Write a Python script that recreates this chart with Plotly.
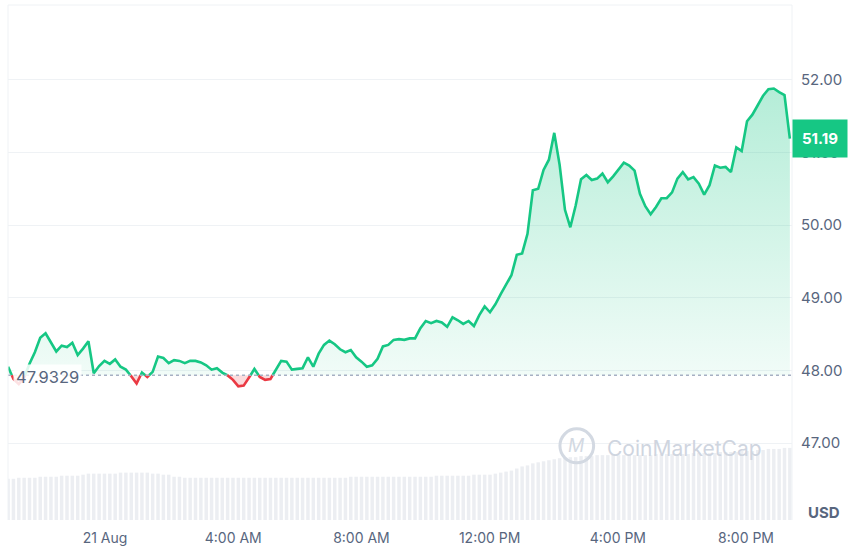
import numpy as np
import pandas as pd
import plotly.graph_objects as go

# 24h price of the token, 10-minute-ish samples
start_time = "2023-08-20 20:58:30"
end_time = "2023-08-21 21:22:00"
price = [
    48.05, 47.88, 47.81, 47.90, 48.09, 48.25, 48.45, 48.51, 48.38, 48.26,
    48.34, 48.32, 48.38, 48.21, 48.30, 48.40, 47.96, 48.06, 48.13, 48.09,
    48.15, 48.05, 48.01, 47.92, 47.82, 47.97, 47.91, 47.98, 48.19, 48.17,
    48.10, 48.14, 48.13, 48.10, 48.13, 48.13, 48.11, 48.07, 48.01, 48.03,
    47.97, 47.93, 47.87, 47.78, 47.79, 47.90, 48.02, 47.91, 47.87, 47.88,
    48.01, 48.13, 48.12, 48.01, 48.02, 48.03, 48.18, 48.05, 48.23, 48.35,
    48.41, 48.36, 48.29, 48.25, 48.28, 48.18, 48.12, 48.05, 48.07, 48.16,
    48.33, 48.35, 48.42, 48.43, 48.42, 48.44, 48.44, 48.58, 48.68, 48.65,
    48.68, 48.66, 48.60, 48.73, 48.69, 48.64, 48.68, 48.61, 48.76, 48.88,
    48.80, 48.91, 49.05, 49.19, 49.31, 49.59, 49.61, 49.88, 50.48, 50.50,
    50.76, 50.90, 51.27, 50.83, 50.21, 49.97, 50.27, 50.63, 50.69, 50.62,
    50.64, 50.71, 50.59, 50.67, 50.77, 50.86, 50.82, 50.75, 50.43, 50.26,
    50.15, 50.25, 50.37, 50.37, 50.45, 50.64, 50.73, 50.63, 50.66, 50.57,
    50.42, 50.55, 50.82, 50.79, 50.80, 50.73, 51.07, 51.02, 51.43, 51.52,
    51.65, 51.78, 51.87, 51.88, 51.83, 51.79, 51.19,
]
# volume (relative units)
volume = [
    40, 40, 41, 41, 41, 41, 42, 42, 42, 42, 43, 43, 43, 43, 44,
    45, 45, 45, 45, 45, 45, 46, 46, 46, 46, 46, 46, 45, 45, 44, 44,
    42, 42, 41, 41, 41, 41, 41, 41, 41, 41, 41, 41, 41, 41, 41, 41, 41, 41, 41, 41,
    41, 41, 41, 41, 41, 41, 41, 41, 41, 41, 41, 41, 41, 42, 42, 42, 42, 42, 42, 42,
    42, 42, 42, 42, 42, 42, 42, 42, 42, 43,
    43, 43, 43, 43, 43, 43, 44, 44, 44, 44, 45,
    46, 47, 48, 50, 52, 53, 55, 56, 57, 58,
    59, 60, 60, 61, 61, 62, 62, 62, 63, 63,
    63, 63, 63, 63, 63, 63, 63, 63, 63, 64, 64, 64, 64, 64, 64, 64, 65, 65, 65, 65,
    65, 66, 66, 66, 66, 67, 67, 67, 68, 68, 69, 69, 69, 70, 70,
]
base_price = 47.9329
last_price = 51.19
y_ticks = [47, 48, 49, 50, 51, 52]
x_ticks = ["2023-08-21 00:00", "2023-08-21 04:00", "2023-08-21 08:00",
           "2023-08-21 12:00", "2023-08-21 16:00", "2023-08-21 20:00"]
x_labels = ["21 Aug", "4:00 AM", "8:00 AM", "12:00 PM", "4:00 PM", "8:00 PM"]

GREEN = "#16c784"
RED = "#ea3943"
GREY = "#58667e"
GRID = "#eff2f5"

times = pd.date_range(start_time, end_time, periods=len(price))

# insert the points where the line crosses the base price so the colours split cleanly
t_num = times.astype("int64").to_numpy()
xs, ys = [t_num[0]], [price[0]]
for i in range(1, len(price)):
    p0, p1 = price[i - 1], price[i]
    if (p0 - base_price) * (p1 - base_price) < 0:
        f = (base_price - p0) / (p1 - p0)
        xs.append(int(t_num[i - 1] + f * (t_num[i] - t_num[i - 1])))
        ys.append(base_price)
    xs.append(t_num[i])
    ys.append(p1)
xs = pd.to_datetime(np.array(xs, dtype="int64"))
ys = np.array(ys)
base_line = np.full(len(ys), base_price)
up = np.where(ys >= base_price, ys, np.nan)
down = np.where(ys <= base_price, ys, np.nan)

fig = go.Figure()

fig.add_trace(go.Bar(x=times, y=volume, yaxis="y2", marker_color="#eceef2",
                     marker_line_width=0, hoverinfo="skip"))

# green area above base
fig.add_trace(go.Scatter(x=xs, y=base_line, mode="lines", line=dict(width=0), hoverinfo="skip"))
fig.add_trace(go.Scatter(
    x=xs, y=np.maximum(ys, base_price), mode="lines", line=dict(width=0), fill="tonexty",
    fillgradient=dict(type="vertical", start=47.0, stop=52.2,
                      colorscale=[[0, "rgba(22,199,132,0.0)"], [1, "rgba(22,199,132,0.34)"]]),
    hoverinfo="skip"))
# red area below base
fig.add_trace(go.Scatter(x=xs, y=base_line, mode="lines", line=dict(width=0), hoverinfo="skip"))
fig.add_trace(go.Scatter(x=xs, y=np.minimum(ys, base_price), mode="lines", line=dict(width=0),
                         fill="tonexty", fillcolor="rgba(234,57,67,0.18)", hoverinfo="skip"))

fig.add_trace(go.Scatter(x=xs, y=up, mode="lines", line=dict(color=GREEN, width=2.6),
                         connectgaps=False))
fig.add_trace(go.Scatter(x=xs, y=down, mode="lines", line=dict(color=RED, width=2.6),
                         connectgaps=False))

# dotted base price line
fig.add_shape(type="line", xref="paper", x0=0, x1=1, yref="y", y0=base_price, y1=base_price,
              line=dict(color="#a6b0c3", width=1.5, dash="dot"), layer="above")
# frame lines
frame = dict(color=GRID, width=1)
fig.add_shape(type="line", xref="paper", yref="paper", x0=0, x1=1, y0=1, y1=1, line=frame)
fig.add_shape(type="line", xref="paper", yref="paper", x0=0, x1=0, y0=0, y1=1, line=frame)
fig.add_shape(type="line", xref="paper", yref="paper", x0=1, x1=1, y0=0, y1=1, line=frame)

# watermark
fig.add_shape(type="circle", xref="paper", yref="paper", x0=0.704, x1=0.747, y0=0.111, y1=0.177,
              line=dict(color="#d3d9e2", width=3))
fig.add_annotation(x=0.7255, y=0.144, xref="paper", yref="paper", xanchor="center",
                   yanchor="middle", text="<i>M</i>", showarrow=False,
                   font=dict(size=18, color="#d3d9e2", family="Inter"))
fig.add_annotation(x=0.761, y=0.138, xref="paper", yref="paper", xanchor="left",
                   yanchor="middle", text="CoinMarketCap", showarrow=False,
                   font=dict(size=21, color="#cfd5df", family="Inter"))

fig.add_annotation(x=0, xref="paper", y=base_price, yref="y", xanchor="left",
                   yanchor="middle", xshift=5, yshift=-2,
                   text="47.9329", showarrow=False, bgcolor="rgba(255,255,255,0.85)",
                   borderpad=2, font=dict(size=16.5, color=GREY, family="Inter"))
fig.add_annotation(x=1, xref="paper", y=last_price, yref="y", xanchor="left",
                   yanchor="middle", text="<b>51.19</b>", showarrow=False,
                   bgcolor=GREEN, borderpad=9,
                   font=dict(size=15, color="white", family="Inter"))
fig.add_annotation(x=1, xref="paper", y=0.014, yref="paper", xanchor="left",
                   yanchor="middle", xshift=14, text="<b>USD</b>", showarrow=False,
                   font=dict(size=15, color=GREY, family="Inter"))

fig.update_layout(
    width=858, height=552,
    margin=dict(l=8, r=66, t=5, b=32),
    plot_bgcolor="white", paper_bgcolor="white",
    showlegend=False, bargap=0.35,
    font=dict(family="Inter", color=GREY),
    xaxis=dict(range=["2023-08-20 20:58:20", "2023-08-21 21:26:00"], showgrid=False,
               zeroline=False, showline=False, tickvals=x_ticks, ticktext=x_labels,
               ticks="", tickfont=dict(size=14, color=GREY), ticklabelstandoff=8),
    yaxis=dict(range=[45.94, 53.03], side="right", tickvals=y_ticks, tickformat=".2f",
               gridcolor=GRID, gridwidth=1, zeroline=False, showline=False, ticks="",
               tickfont=dict(size=15, color=GREY), ticklabelstandoff=8),
    yaxis2=dict(range=[0, 500], overlaying="y", visible=False),
)

# the page body has a default 8px margin; drop it so the chart sits at the window corner
fig.write_html("out.html", config={"displayModeBar": False},
               post_script="document.body.style.margin='0';document.body.style.overflow='hidden';")
